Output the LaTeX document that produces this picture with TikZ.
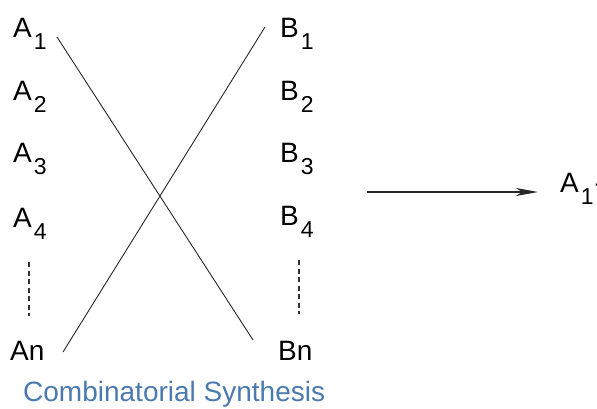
\documentclass[tikz,border=0pt]{standalone}
\usepackage{fontspec}
\setmainfont{Liberation Sans}
\usetikzlibrary{arrows.meta}
\newcommand\lsub[1]{\kern2pt\raisebox{-12pt}{\fontsize{23}{23}\selectfont #1}}
\definecolor{capblue}{RGB}{74,122,176}
\begin{document}
\begin{tikzpicture}[x=1pt,y=-1pt,
  lab/.style={inner sep=0pt,anchor=base west,font=\fontsize{28}{30}\selectfont},
  conn/.style={line width=0.9pt,black!85},
  dots/.style={line width=1.2pt,dash pattern=on 5pt off 3.5pt,black!80},
  arr/.style={line width=1.4pt,black!85,-{Stealth[length=22pt,width=8pt,inset=6pt]}}]
\useasboundingbox (0,0) rectangle (597,408);
% left column
\node[lab] (a1) at (13,37) {A\lsub{1}};
\node[lab] (a2) at (13,100) {A\lsub{2}};
\node[lab] (a3) at (13,162) {A\lsub{3}};
\node[lab] (a4) at (13,227) {A\lsub{4}};
\node[lab] (an) at (10,360) {An};
% right column
\node[lab] (b1) at (280,37) {B\lsub{1}};
\node[lab] (b2) at (280,100) {B\lsub{2}};
\node[lab] (b3) at (280,162) {B\lsub{3}};
\node[lab] (b4) at (280,225) {B\lsub{4}};
\node[lab] (bn) at (278,360) {Bn};
% caption
\node[lab,text=capblue] (cap) at (23,401) {Combinatorial Synthesis};
% product
\node[lab] (r) at (560,192) {A\lsub{1}\kern1pt-};
% line end points
\coordinate (a1e) at (57,37);
\coordinate (bne) at (253,340);
\coordinate (ane) at (63,352);
\coordinate (b1e) at (265,27);
\draw[conn] (a1e) -- (bne);
\draw[conn] (ane) -- (b1e);
% dotted continuation
\coordinate (da1) at (29,262);
\coordinate (da2) at (29,316);
\coordinate (db1) at (299,260);
\coordinate (db2) at (299,314);
\draw[dots] (da1) -- (da2);
\draw[dots] (db1) -- (db2);
% reaction arrow
\coordinate (arrs) at (367,192);
\coordinate (arre) at (538,192);
\draw[arr] (arrs) -- (arre);
\end{tikzpicture}
\end{document}
